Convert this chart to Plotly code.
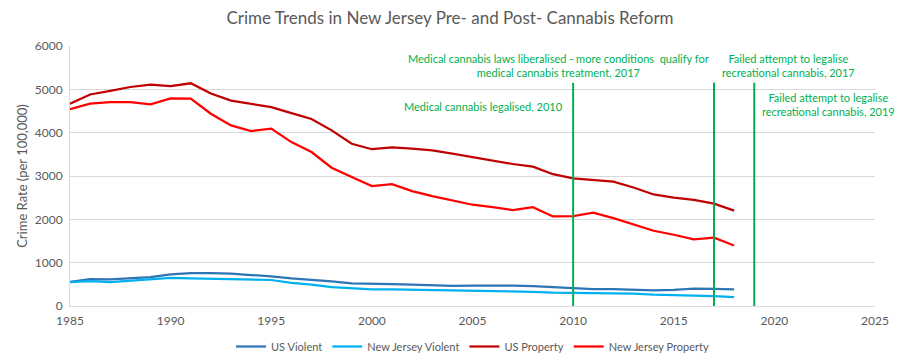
import plotly.graph_objects as go

years = list(range(1985, 2019))

us_violent = [557, 620, 613, 641, 667, 730, 758, 758, 747, 714, 685, 637, 611, 568,
              523, 507, 505, 494, 476, 463, 469, 479, 472, 459, 432, 405, 387, 388,
              369, 362, 374, 398, 394, 381]
nj_violent = [550, 573, 550, 580, 608, 650, 635, 627, 630, 618, 600, 532, 494, 438,
              411, 384, 383, 375, 366, 356, 356, 352, 330, 328, 310, 307, 308, 289,
              286, 261, 255, 245, 228, 205]
us_property = [4666, 4881, 4963, 5054, 5107, 5073, 5140, 4904, 4740, 4660, 4591, 4451,
               4317, 4053, 3744, 3618, 3658, 3631, 3591, 3514, 3432, 3346, 3277, 3215,
               3041, 2946, 2905, 2868, 2734, 2574, 2500, 2451, 2362, 2200]
nj_property = [4540, 4670, 4707, 4707, 4654, 4792, 4785, 4438, 4168, 4037, 4092, 3783,
               3552, 3191, 2975, 2767, 2813, 2651, 2536, 2429, 2337, 2282, 2213, 2282,
               2067, 2074, 2152, 2028, 1882, 1737, 1644, 1536, 1575, 1397]

series_names = ["US Violent", "New Jersey Violent", "US Property", "New Jersey Property"]
series_values = [us_violent, nj_violent, us_property, nj_property]
series_colors = ["#2E75B6", "#00B0F0", "#C00000", "#FF0000"]

event_years = [2010, 2017, 2019]
event_line_top = 5150

event_labels = [
    "Medical cannabis laws liberalised - more conditions  qualify for<br>medical cannabis treatment, 2017",
    "Medical cannabis legalised, 2010",
    "Failed attempt to legalise<br>recreational cannabis, 2017",
    "Failed attempt to legalise<br>recreational cannabis, 2019",
]
label_x = [2009.25, 2005.57, 2020.68, 2022.71]
label_y = [5540, 4610, 5540, 4640]

FONT = "Lato"
GRAY = "#595959"
GREEN = "#00B050"

fig = go.Figure()
for name, vals, col in zip(series_names, series_values, series_colors):
    fig.add_trace(go.Scatter(x=years, y=vals, name=name, mode="lines",
                             line=dict(color=col, width=2.25)))

for yr in event_years:
    fig.add_shape(type="line", xref="x", yref="y", x0=yr, x1=yr, y0=0, y1=event_line_top,
                  line=dict(color=GREEN, width=2), layer="above")

for txt, ax, ay in zip(event_labels, label_x, label_y):
    fig.add_annotation(x=ax, y=ay, xref="x", yref="y", text=txt, showarrow=False,
                       xanchor="center", yanchor="middle", align="center",
                       font=dict(family=FONT, size=11, color=GREEN))

fig.update_layout(
    width=900, height=364,
    margin=dict(l=70, r=25, t=46, b=58, autoexpand=False),
    paper_bgcolor="white", plot_bgcolor="white",
    font=dict(family=FONT, size=12, color=GRAY),
    title=dict(text="Crime Trends in New Jersey Pre- and Post- Cannabis Reform",
               x=0.5, xanchor="center", yref="container", y=1 - 18 / 364, yanchor="middle",
               font=dict(family=FONT, size=17, color=GRAY)),
    showlegend=True,
    legend=dict(orientation="h", x=0.5, xanchor="center", y=-0.10, yanchor="top",
                font=dict(family=FONT, size=11, color=GRAY), itemwidth=30,
                traceorder="normal"),
    xaxis=dict(range=[1985, 2025], tickmode="linear", tick0=1985, dtick=5,
               showgrid=False, zeroline=False, showline=True, linecolor="#D9D9D9",
               linewidth=1, ticks="outside", ticklen=4, tickcolor="rgba(0,0,0,0)",
               tickfont=dict(size=12, color=GRAY)),
    yaxis=dict(range=[0, 6000], tickmode="linear", tick0=0, dtick=1000,
               showgrid=True, gridcolor="#D9D9D9", gridwidth=1, zeroline=False,
               showline=True, linecolor="#D9D9D9", ticks="outside", ticklen=4,
               tickcolor="rgba(0,0,0,0)",
               title=dict(text="Crime Rate (per 100,000)", font=dict(size=13, color=GRAY),
                          standoff=4),
               tickfont=dict(size=12, color=GRAY)),
)

fig.write_html("out.html", config={"displayModeBar": False},
               post_script="document.body.style.margin='0';")
